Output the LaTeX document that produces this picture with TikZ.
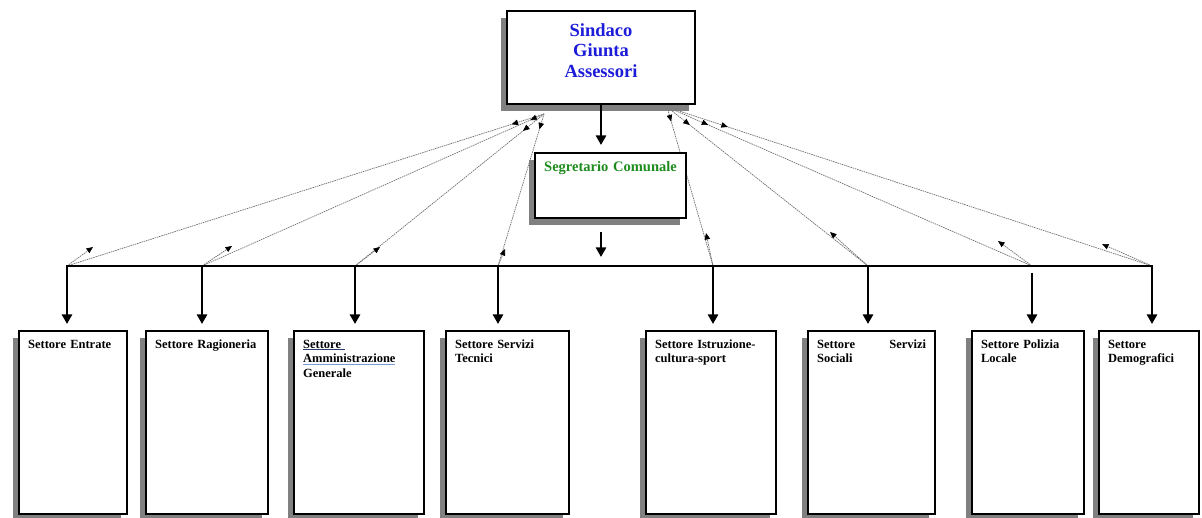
\documentclass[tikz,border=0pt]{standalone}
\usepackage{fontspec}
\setmainfont{Liberation Serif}
\usetikzlibrary{arrows.meta,shadows,decorations.markings}
\definecolor{ink}{HTML}{000000}
\definecolor{shade}{HTML}{808080}
\definecolor{linkgray}{HTML}{6E6E6E}
\definecolor{blu}{HTML}{1C1CD9}
\definecolor{verde}{HTML}{1E8C1E}
\definecolor{ulnavy}{HTML}{2B3A67}
\definecolor{ulblue}{HTML}{7A9AD8}
\newcommand{\ulseg}[1]{{\color{ulnavy}\underline{\color{ink}#1}}}
\newcommand{\ulam}[1]{{\color{ulblue}\underline{\color{ink}#1}}}
\tikzset{
  box/.style={draw=ink, line width=2.3pt, fill=white,
    drop shadow={shadow xshift=-6.5pt, shadow yshift=-7pt, opacity=1, fill=shade}},
  sett/.style={box, anchor=north west, align=left, inner xsep=9pt, inner ysep=8pt,
    text height=9pt, text depth=158pt, font=\bfseries\fontsize{12.5}{14.5}\selectfont},
  down/.style={draw=ink, line width=2.9pt, -{Triangle[width=10pt,length=9.5pt]}},
  bus/.style={draw=ink, line width=2.9pt, line cap=rect},
  link/.style={draw=linkgray, line width=0.7pt, dash pattern=on 1.5pt off 0.8pt},
  lnk/.tip={Triangle[width=5.5pt,length=6.5pt,color=ink]},
}

\begin{document}
\begin{tikzpicture}[x=1pt,y=-1pt]
  \useasboundingbox (0,0) rectangle (1202,518);

  % bus points and meeting points under the top box
  \coordinate (gl) at (544,114);
  \coordinate (gr) at (667,107);
  \foreach \i/\x in {1/67,2/202,3/355,4/498,5/713,6/868,7/1032,8/1152}
    {\coordinate (b\i) at (\x,266);}
  \foreach \i/\x/\y in {1/93/247,2/232/246,3/380/247,4/505/249,
                        5/706/233,6/830/232,7/998/241,8/1102/244}
    {\coordinate (t\i) at (\x,\y);}

  % thin links
  \foreach \i/\d in {1/34,2/15,3/27,4/16}
    {\draw[link, postaction={decorate}, decoration={markings,
       mark=at position \d pt with {\arrow{lnk}}}] (gl) -- (b\i);}
  \foreach \i/\d in {5/15,6/29,7/45,8/64}
    {\draw[link, postaction={decorate}, decoration={markings,
       mark=at position \d pt with {\arrow{lnk}}}] (gr) -- (b\i);}
  \foreach \i in {1,...,8}
    {\draw[link, -lnk] (b\i) -- (t\i);}

  \node[box, anchor=north, align=center, text width=176pt, inner xsep=6pt,
    inner ysep=12pt, text height=13pt, text depth=56pt, text=blu,
    font=\bfseries\fontsize{18.5}{20.5}\selectfont] (giunta) at (601,10)
    {Sindaco\\Giunta\\Assessori};
  \node[box, anchor=north, align=center, text width=143pt, inner xsep=4pt,
    inner ysep=8pt, text height=10pt, text depth=39pt, text=verde,
    font=\bfseries\fontsize{14.5}{16}\selectfont] (segr) at (610.5,152)
    {Segretario Comunale};

  \foreach \i/\x/\tw/\txt in {
    1/18/90/{Settore Entrate},
    2/145/104/{Settore Ragioneria},
    3/293/112/{\ulseg{Settore\ }\\\ulam{Amministrazione}\\Generale},
    4/445/105/{Settore Servizi\\Tecnici},
    5/645/112/{Settore Istruzione-\\cultura-sport},
    6/807/109/{Settore\hfill Servizi\\Sociali},
    7/971/94/{Settore Polizia\\Locale},
    8/1098/82/{Settore\\Demografici}
  }{\node[sett, text width=\tw pt] (s\i) at (\x,330) {\txt};}

  % thick arrows and bus
  \draw[down, shorten >=7pt] (giunta.south) -- (giunta.south |- segr.north);
  \draw[down, shorten <=13pt, shorten >=9pt]
    (giunta.south |- segr.south) -- (giunta.south |- b1);
  \draw[bus] (b1) -- (b8);
  \foreach \i/\g in {1/0,2/0,3/0,4/0,5/0,6/0,7/7,8/0}
    {\draw[down, shorten <=\g pt, shorten >=6pt] (b\i) -- (b\i |- s\i.north);}
\end{tikzpicture}
\end{document}
